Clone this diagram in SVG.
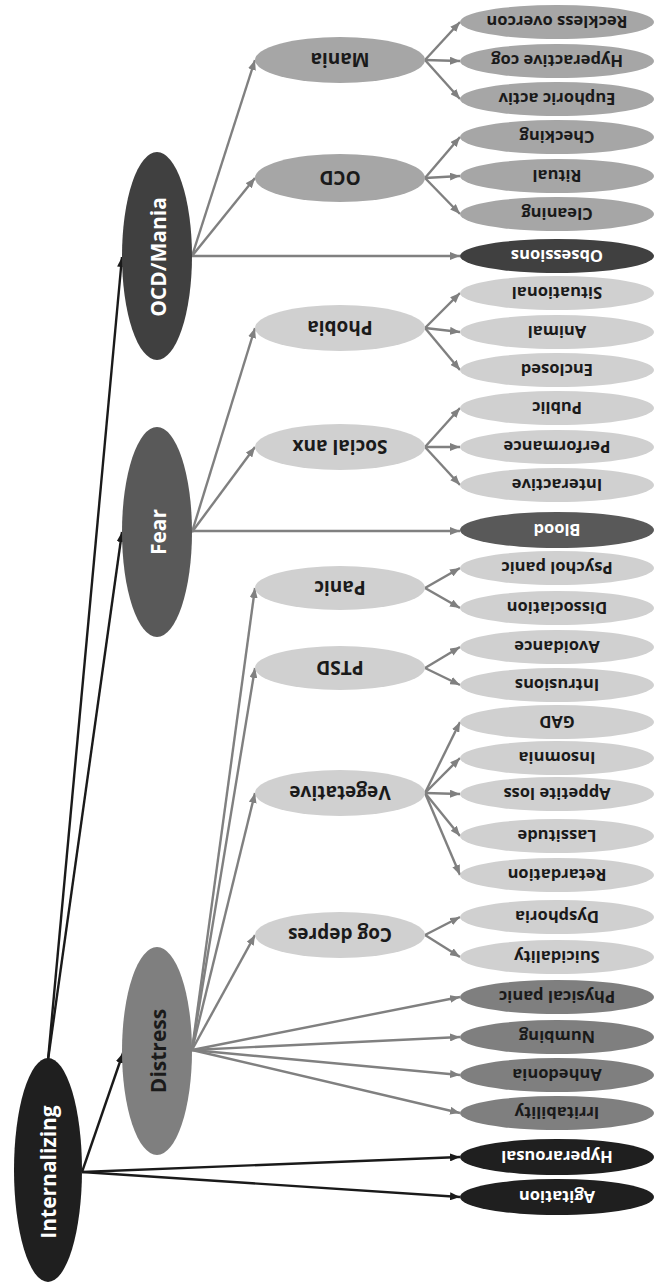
<svg xmlns="http://www.w3.org/2000/svg" width="656" height="1286" viewBox="0 0 656 1286">
<style>
text{font-family:"Open Sans","Liberation Sans",sans-serif;font-weight:bold;text-anchor:middle;dominant-baseline:central}
.big{font-size:21px}
.mid{font-size:19px}
.leaf{font-size:16.5px}
.w{fill:#ffffff}
.d{fill:#1a1a1a}
.c1{fill:#1f1f1f}
.c2{fill:#404040}
.c3{fill:#595959}
.c4{fill:#7f7f7f}
.c5{fill:#a6a6a6}
.c6{fill:#d0d0d0}
.lg{stroke:#808080;stroke-width:2.4;fill:none;marker-end:url(#ag)}
.lb{stroke:#1a1a1a;stroke-width:2.4;fill:none;marker-end:url(#ab)}
</style>
<defs>
<marker id="ag" viewBox="0 0 10 8" refX="10" refY="4" markerWidth="10" markerHeight="8" markerUnits="userSpaceOnUse" orient="auto"><path d="M0,0 L10,4 L0,8 z" fill="#808080"/></marker>
<marker id="ab" viewBox="0 0 10 8" refX="10" refY="4" markerWidth="10" markerHeight="8" markerUnits="userSpaceOnUse" orient="auto"><path d="M0,0 L10,4 L0,8 z" fill="#1a1a1a"/></marker>
</defs>
<g id="connectors">
<line class="lb" x1="48" y1="1060" x2="122" y2="257"/>
<line class="lb" x1="48" y1="1060" x2="122" y2="532"/>
<line class="lb" x1="82" y1="1172" x2="123" y2="1053"/>
<line class="lb" x1="82" y1="1172" x2="460" y2="1157"/>
<line class="lb" x1="82" y1="1172" x2="460" y2="1197"/>
<line class="lg" x1="192" y1="256" x2="255" y2="60"/>
<line class="lg" x1="192" y1="256" x2="255" y2="178"/>
<line class="lg" x1="192" y1="256" x2="460" y2="256"/>
<line class="lg" x1="192" y1="532" x2="255" y2="328"/>
<line class="lg" x1="192" y1="532" x2="255" y2="447"/>
<line class="lg" x1="192" y1="531" x2="460" y2="531"/>
<line class="lg" x1="192" y1="1050" x2="255" y2="588"/>
<line class="lg" x1="192" y1="1050" x2="255" y2="668"/>
<line class="lg" x1="192" y1="1050" x2="255" y2="793"/>
<line class="lg" x1="192" y1="1050" x2="255" y2="935"/>
<line class="lg" x1="192" y1="1050" x2="460" y2="997"/>
<line class="lg" x1="192" y1="1050" x2="460" y2="1037"/>
<line class="lg" x1="192" y1="1050" x2="460" y2="1075"/>
<line class="lg" x1="192" y1="1050" x2="460" y2="1113"/>
<line class="lg" x1="425" y1="60" x2="460" y2="22"/>
<line class="lg" x1="425" y1="60" x2="460" y2="61"/>
<line class="lg" x1="425" y1="60" x2="460" y2="99"/>
<line class="lg" x1="425" y1="178" x2="460" y2="137"/>
<line class="lg" x1="425" y1="178" x2="460" y2="176"/>
<line class="lg" x1="425" y1="178" x2="460" y2="214"/>
<line class="lg" x1="425" y1="328" x2="460" y2="293"/>
<line class="lg" x1="425" y1="328" x2="460" y2="332"/>
<line class="lg" x1="425" y1="328" x2="460" y2="370"/>
<line class="lg" x1="425" y1="447" x2="460" y2="408"/>
<line class="lg" x1="425" y1="447" x2="460" y2="447"/>
<line class="lg" x1="425" y1="447" x2="460" y2="485"/>
<line class="lg" x1="425" y1="588" x2="460" y2="568"/>
<line class="lg" x1="425" y1="588" x2="460" y2="608"/>
<line class="lg" x1="425" y1="668" x2="460" y2="647"/>
<line class="lg" x1="425" y1="668" x2="460" y2="685"/>
<line class="lg" x1="425" y1="793" x2="460" y2="722"/>
<line class="lg" x1="425" y1="793" x2="460" y2="758"/>
<line class="lg" x1="425" y1="793" x2="460" y2="794"/>
<line class="lg" x1="425" y1="793" x2="460" y2="836"/>
<line class="lg" x1="425" y1="793" x2="460" y2="875"/>
<line class="lg" x1="425" y1="935" x2="460" y2="917"/>
<line class="lg" x1="425" y1="935" x2="460" y2="957"/>
</g>
<g id="n-internalizing"><ellipse class="c1" cx="48" cy="1170" rx="34" ry="112"/><text class="big w" transform="translate(48,1172) rotate(-90)">Internalizing</text></g>
<g id="n-ocdmania"><ellipse class="c2" cx="157" cy="256" rx="35" ry="104"/><text class="big w" transform="translate(158,257) rotate(-90)">OCD/Mania</text></g>
<g id="n-fear"><ellipse class="c3" cx="157" cy="532" rx="35" ry="105"/><text class="big w" transform="translate(158,532) rotate(-90)">Fear</text></g>
<g id="n-distress"><ellipse class="c4" cx="157" cy="1051" rx="35" ry="104"/><text class="big d" transform="translate(158,1051) rotate(-90)">Distress</text></g>
<g id="n-mania"><ellipse class="c5" cx="340" cy="60" rx="85" ry="23"/><text class="mid d" transform="translate(340,60) rotate(180)">Mania</text></g>
<g id="n-ocd"><ellipse class="c5" cx="340" cy="178" rx="85" ry="24"/><text class="mid d" transform="translate(340,178) rotate(180)">OCD</text></g>
<g id="n-phobia"><ellipse class="c6" cx="340" cy="328" rx="85" ry="23"/><text class="mid d" transform="translate(340,328) rotate(180)">Phobia</text></g>
<g id="n-socialanx"><ellipse class="c6" cx="340" cy="447" rx="85" ry="23"/><text class="mid d" transform="translate(340,447) rotate(180)">Social anx</text></g>
<g id="n-panic"><ellipse class="c6" cx="340" cy="588" rx="85" ry="22"/><text class="mid d" transform="translate(340,588) rotate(180)">Panic</text></g>
<g id="n-ptsd"><ellipse class="c6" cx="340" cy="668" rx="85" ry="22"/><text class="mid d" transform="translate(340,668) rotate(180)">PTSD</text></g>
<g id="n-vegetative"><ellipse class="c6" cx="340" cy="793" rx="85" ry="23"/><text class="mid d" transform="translate(340,793) rotate(180)">Vegetative</text></g>
<g id="n-cogdepres"><ellipse class="c6" cx="340" cy="935" rx="85" ry="23"/><text class="mid d" transform="translate(340,935) rotate(180)">Cog depres</text></g>
<g id="l-reckless"><ellipse class="c5" cx="557" cy="22" rx="97" ry="17"/><text class="leaf d" transform="translate(557,22) rotate(180)">Reckless overcon</text></g>
<g id="l-hyperactive"><ellipse class="c5" cx="557" cy="61" rx="97" ry="17"/><text class="leaf d" transform="translate(557,61) rotate(180)">Hyperactive cog</text></g>
<g id="l-euphoric"><ellipse class="c5" cx="557" cy="99" rx="97" ry="17"/><text class="leaf d" transform="translate(557,99) rotate(180)">Euphoric activ</text></g>
<g id="l-checking"><ellipse class="c5" cx="557" cy="137" rx="97" ry="17"/><text class="leaf d" transform="translate(557,137) rotate(180)">Checking</text></g>
<g id="l-ritual"><ellipse class="c5" cx="557" cy="176" rx="97" ry="17"/><text class="leaf d" transform="translate(557,176) rotate(180)">Ritual</text></g>
<g id="l-cleaning"><ellipse class="c5" cx="557" cy="214" rx="97" ry="17"/><text class="leaf d" transform="translate(557,214) rotate(180)">Cleaning</text></g>
<g id="l-obsessions"><ellipse class="c2" cx="557" cy="256" rx="97" ry="17"/><text class="leaf w" transform="translate(557,256) rotate(180)">Obsessions</text></g>
<g id="l-situational"><ellipse class="c6" cx="557" cy="293" rx="97" ry="17"/><text class="leaf d" transform="translate(557,293) rotate(180)">Situational</text></g>
<g id="l-animal"><ellipse class="c6" cx="557" cy="332" rx="97" ry="17"/><text class="leaf d" transform="translate(557,332) rotate(180)">Animal</text></g>
<g id="l-enclosed"><ellipse class="c6" cx="557" cy="370" rx="97" ry="17"/><text class="leaf d" transform="translate(557,370) rotate(180)">Enclosed</text></g>
<g id="l-public"><ellipse class="c6" cx="557" cy="408" rx="97" ry="17"/><text class="leaf d" transform="translate(557,408) rotate(180)">Public</text></g>
<g id="l-performance"><ellipse class="c6" cx="557" cy="447" rx="97" ry="17"/><text class="leaf d" transform="translate(557,447) rotate(180)">Performance</text></g>
<g id="l-interactive"><ellipse class="c6" cx="557" cy="485" rx="97" ry="17"/><text class="leaf d" transform="translate(557,485) rotate(180)">Interactive</text></g>
<g id="l-blood"><ellipse class="c3" cx="557" cy="530" rx="97" ry="18"/><text class="leaf w" transform="translate(557,530) rotate(180)">Blood</text></g>
<g id="l-psychol"><ellipse class="c6" cx="557" cy="568" rx="97" ry="17"/><text class="leaf d" transform="translate(557,568) rotate(180)">Psychol panic</text></g>
<g id="l-dissociation"><ellipse class="c6" cx="557" cy="608" rx="97" ry="17"/><text class="leaf d" transform="translate(557,608) rotate(180)">Dissociation</text></g>
<g id="l-avoidance"><ellipse class="c6" cx="557" cy="647" rx="97" ry="17"/><text class="leaf d" transform="translate(557,647) rotate(180)">Avoidance</text></g>
<g id="l-intrusions"><ellipse class="c6" cx="557" cy="685" rx="97" ry="17"/><text class="leaf d" transform="translate(557,685) rotate(180)">Intrusions</text></g>
<g id="l-gad"><ellipse class="c6" cx="557" cy="722" rx="97" ry="17"/><text class="leaf d" transform="translate(557,722) rotate(180)">GAD</text></g>
<g id="l-insomnia"><ellipse class="c6" cx="557" cy="758" rx="97" ry="17"/><text class="leaf d" transform="translate(557,758) rotate(180)">Insomnia</text></g>
<g id="l-appetite"><ellipse class="c6" cx="557" cy="794" rx="97" ry="17"/><text class="leaf d" transform="translate(557,794) rotate(180)">Appetite loss</text></g>
<g id="l-lassitude"><ellipse class="c6" cx="557" cy="836" rx="97" ry="17"/><text class="leaf d" transform="translate(557,836) rotate(180)">Lassitude</text></g>
<g id="l-retardation"><ellipse class="c6" cx="557" cy="875" rx="97" ry="17"/><text class="leaf d" transform="translate(557,875) rotate(180)">Retardation</text></g>
<g id="l-dysphoria"><ellipse class="c6" cx="557" cy="917" rx="97" ry="17"/><text class="leaf d" transform="translate(557,917) rotate(180)">Dysphoria</text></g>
<g id="l-suicidality"><ellipse class="c6" cx="557" cy="957" rx="97" ry="17"/><text class="leaf d" transform="translate(557,957) rotate(180)">Suicidality</text></g>
<g id="l-physical"><ellipse class="c4" cx="557" cy="997" rx="97" ry="17"/><text class="leaf d" transform="translate(557,997) rotate(180)">Physical panic</text></g>
<g id="l-numbing"><ellipse class="c4" cx="557" cy="1037" rx="97" ry="17"/><text class="leaf d" transform="translate(557,1037) rotate(180)">Numbing</text></g>
<g id="l-anhedonia"><ellipse class="c4" cx="557" cy="1075" rx="97" ry="17"/><text class="leaf d" transform="translate(557,1075) rotate(180)">Anhedonia</text></g>
<g id="l-irritability"><ellipse class="c4" cx="557" cy="1113" rx="97" ry="17"/><text class="leaf d" transform="translate(557,1113) rotate(180)">Irritability</text></g>
<g id="l-hyperarousal"><ellipse class="c1" cx="557" cy="1157" rx="97" ry="18"/><text class="leaf w" transform="translate(557,1157) rotate(180)">Hyperarousal</text></g>
<g id="l-agitation"><ellipse class="c1" cx="557" cy="1197" rx="97" ry="18"/><text class="leaf w" transform="translate(557,1197) rotate(180)">Agitation</text></g>
</svg>
